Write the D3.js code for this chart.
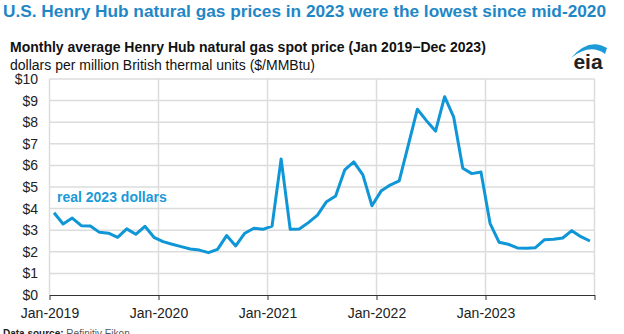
<!DOCTYPE html>
<html>
<head>
<meta charset="utf-8">
<script src="https://cdn.jsdelivr.net/npm/d3@7"></script>
<style>
  html, body { margin: 0; padding: 0; background: #fff; }
  #chart { width: 624px; height: 334px; overflow: hidden; }
  svg { display: block; font-family: "Liberation Sans", Arial, sans-serif; }
</style>
</head>
<body>
<div id="chart"></div>
<script>
// Henry Hub monthly spot price, real 2023 dollars per MMBtu, Jan 2019 - Dec 2023
const prices2019 = [3.81, 3.29, 3.56, 3.21, 3.19, 2.90, 2.86, 2.67, 3.06, 2.81, 3.18, 2.67];
const prices2020 = [2.47, 2.35, 2.24, 2.13, 2.08, 1.96, 2.11, 2.75, 2.27, 2.86, 3.09, 3.04];
const prices2021 = [3.19, 6.30, 3.04, 3.06, 3.35, 3.70, 4.32, 4.58, 5.79, 6.16, 5.56, 4.13];
const prices2022 = [4.81, 5.09, 5.28, 6.94, 8.60, 8.07, 7.59, 9.18, 8.23, 5.87, 5.62, 5.69];
const prices2023 = [3.32, 2.44, 2.35, 2.18, 2.16, 2.19, 2.56, 2.58, 2.64, 2.98, 2.70, 2.50];

const yTicks = [0, 1, 2, 3, 4, 5, 6, 7, 8, 9, 10];
const yearStarts = [0, 12, 24, 36, 48, 60]; // month offsets of each January
const xTickLabels = ["Jan-2019", "Jan-2020", "Jan-2021", "Jan-2022", "Jan-2023", ""];

const title = "U.S. Henry Hub natural gas prices in 2023 were the lowest since mid-2020";
const subtitle = "Monthly average Henry Hub natural gas spot price (Jan 2019\u2212Dec 2023)";
const units = "dollars per million British thermal units ($/MMBtu)";
const seriesLabel = "real 2023 dollars";

const attrs = {
  width: 624,
  height: 334,
  margin: { top: 79, right: 29.5, bottom: 39, left: 49.5 },
  titleWidth: 603,
  lineColor: "#0f96d6",
  titleColor: "#1f87c6",
  gridColor: "#dcdcdc",
};

const values = [].concat(prices2019, prices2020, prices2021, prices2022, prices2023);
const data = values.map((v, i) => ({ month: i + 0.5, value: v }));

const chartWidth = attrs.width - attrs.margin.left - attrs.margin.right;
const chartHeight = attrs.height - attrs.margin.top - attrs.margin.bottom;

const svg = d3.select("#chart")
  .append("svg")
  .attr("width", attrs.width)
  .attr("height", attrs.height);

// headings
const titleText = svg.append("text")
  .attr("x", 3)
  .attr("y", 17)
  .attr("fill", attrs.titleColor)
  .attr("font-size", 18)
  .attr("font-weight", "bold")
  .text(title);

// shrink the headline until it fits the banner width
const titleLen = titleText.node().getComputedTextLength();
if (titleLen > attrs.titleWidth) {
  titleText.attr("font-size", (18 * attrs.titleWidth / titleLen).toFixed(2));
}

svg.append("text")
  .attr("x", 10)
  .attr("y", 52)
  .attr("fill", "#111")
  .attr("font-size", 14)
  .attr("font-weight", "bold")
  .text(subtitle);

svg.append("text")
  .attr("x", 10)
  .attr("y", 70)
  .attr("fill", "#111")
  .attr("font-size", 14)
  .text(units);

// eia logo
const logo = svg.append("g").attr("class", "logo");
logo.append("path")
  .attr("d", "M571,58 Q589,37 607,48 L605,54 Q590,43 571,58 Z")
  .attr("fill", "#1c9bd8");
logo.append("text")
  .attr("x", 588)
  .attr("y", 69)
  .attr("text-anchor", "middle")
  .attr("font-size", 21)
  .attr("font-weight", "bold")
  .attr("fill", "#222")
  .text("eia");

const chart = svg.append("g")
  .attr("transform", `translate(${attrs.margin.left}, ${attrs.margin.top})`);

const x = d3.scaleLinear([0, 60], [0, chartWidth]);
const y = d3.scaleLinear([0, 10], [chartHeight, 0]);

// grid
chart.append("g")
  .attr("class", "h-grid")
  .selectAll("line")
  .data(yTicks.slice(1))
  .join("line")
  .attr("x1", 0)
  .attr("x2", chartWidth)
  .attr("y1", (d) => y(d))
  .attr("y2", (d) => y(d))
  .attr("stroke", attrs.gridColor)
  .attr("stroke-width", 1.5);

chart.append("g")
  .attr("class", "v-grid")
  .selectAll("line")
  .data(yearStarts)
  .join("line")
  .attr("x1", (d) => x(d))
  .attr("x2", (d) => x(d))
  .attr("y1", 0)
  .attr("y2", chartHeight)
  .attr("stroke", attrs.gridColor)
  .attr("stroke-width", 1.5);

// y labels
const yAxis = chart.append("g")
  .attr("class", "y-axis")
  .call(d3.axisLeft(y).tickValues(yTicks).tickFormat((d) => "$" + d).tickSize(0).tickPadding(11.5));
yAxis.select(".domain").remove();
yAxis.selectAll("text")
  .attr("font-size", 14)
  .attr("font-family", "Liberation Sans, Arial, sans-serif")
  .attr("fill", "#222");

// x axis
const xAxis = chart.append("g")
  .attr("class", "x-axis")
  .attr("transform", `translate(0, ${chartHeight})`)
  .call(d3.axisBottom(x).tickValues(yearStarts).tickFormat((d, i) => xTickLabels[i]).tickSizeInner(5).tickSizeOuter(0).tickPadding(8));
xAxis.select(".domain").attr("stroke", "#333");
xAxis.selectAll(".tick line").attr("stroke", "#333");
xAxis.selectAll("text")
  .attr("font-size", 14)
  .attr("font-family", "Liberation Sans, Arial, sans-serif")
  .attr("fill", "#222");

// price line
const line = d3.line()
  .x((d) => x(d.month))
  .y((d) => y(d.value));

chart.append("path")
  .datum(data)
  .attr("d", line)
  .attr("fill", "none")
  .attr("stroke", attrs.lineColor)
  .attr("stroke-width", 3)
  .attr("stroke-linejoin", "round");

chart.append("text")
  .attr("x", 7.5)
  .attr("y", 123)
  .attr("font-size", 14)
  .attr("font-weight", "bold")
  .attr("fill", "#1a9ad8")
  .text(seriesLabel);

// source note, runs off the bottom edge
const source = svg.append("text")
  .attr("x", 3)
  .attr("y", 337)
  .attr("font-size", 10)
  .attr("fill", "#555");
source.append("tspan").attr("font-weight", "bold").attr("fill", "#222").text("Data source: ");
source.append("tspan").text("Refinitiv Eikon");
</script>
</body>
</html>
